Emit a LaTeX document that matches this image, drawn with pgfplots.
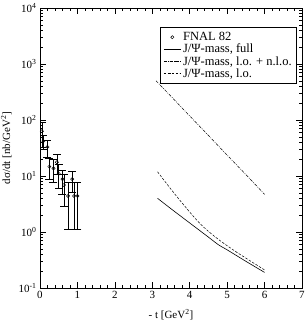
\documentclass[border=0pt]{standalone}
\usepackage{pgfplots}
\pgfplotsset{compat=1.18}
\usepackage{fontspec}
\setmainfont{Liberation Serif}
\begin{document}
\begin{tikzpicture}
\begin{axis}[
  at={(0,0)}, anchor=south west,
  scale only axis, width=262pt, height=280pt,
  ymode=log, xmin=0, xmax=7, ymin=0.1, ymax=10000,
  xtick={0,1,2,3,4,5,6,7}, minor x tick num=4,
  ytick={0.1,1,10,100,1000,10000},
  yticklabels={10\textsuperscript{-1},10\textsuperscript{0},10\textsuperscript{1},10\textsuperscript{2},10\textsuperscript{3},10\textsuperscript{4}},
  /pgf/number format/assume math mode=true,
  tick align=inside, major tick length=6pt, minor tick length=3pt,
  tick style={black, line width=0.5pt},
  axis line style={line width=0.8pt},
  ticklabel style={font=\fontsize{11}{12}\selectfont},
  xlabel={- t [GeV\textsuperscript{2}]},
  ylabel={dσ/dt [nb/GeV\textsuperscript{2}]},
  label style={font=\fontsize{11}{12}\selectfont},
  xlabel style={yshift=-4pt},
  ylabel style={yshift=0pt},
  legend style={at={(0.981,0.932)}, anchor=north east, font=\fontsize{12.5}{13}\selectfont,
    draw=black, line width=0.6pt, row sep=-2pt, inner sep=3pt},
  legend cell align=left,
  legend image post style={line width=0.5pt},
]
\addplot[only marks, mark=o, mark size=1.6pt, black, line width=0.5pt,
  error bars/.cd, y dir=both, y explicit,
  error bar style={line width=0.5pt},
  error mark options={rotate=90, mark size=4pt, line width=0.5pt}]
  table[x=x, y=y, y error=e] {
x y e
0.05 63 30
0.09 42 12
0.20 33 11
0.25 14.7 6
0.36 13.7 6
0.45 17.6 7
0.50 11 5
0.60 8.8 4
0.64 6.9 4
0.75 4.4 3.3
0.86 8.8 3.6
0.91 4.4 3.3
1.00 4.4 3.3
};
\addlegendentry{FNAL 82}
\addplot[black, line width=0.6pt, smooth] coordinates {
(3.14,4.0) (3.5,2.6) (4.0,1.45) (4.5,0.81) (4.77,0.59) (5.0,0.48) (5.5,0.30) (6.0,0.19)};
\addlegendentry{J/Ψ-mass, full}
\addplot[black, line width=0.5pt, dash pattern=on 3pt off 1.2pt on 0.8pt off 1.2pt, smooth] coordinates {
(3.1,500) (3.5,265) (4.0,118) (4.5,53) (5.0,23.6) (5.5,10.6) (6.0,4.7)};
\addlegendentry{J/Ψ-mass, l.o. + n.l.o.}
\addplot[black, line width=0.5pt, dash pattern=on 2.5pt off 1.5pt, smooth] coordinates {
(3.14,11.9) (3.5,5.8) (3.83,3.1) (4.28,1.4) (4.72,0.78) (5.2,0.46) (5.6,0.31) (6.0,0.21)};
\addlegendentry{J/Ψ-mass, l.o.}
\end{axis}
\pgfresetboundingbox
\path (-40pt,-42pt) rectangle (266pt,288pt);
\end{tikzpicture}
\end{document}
